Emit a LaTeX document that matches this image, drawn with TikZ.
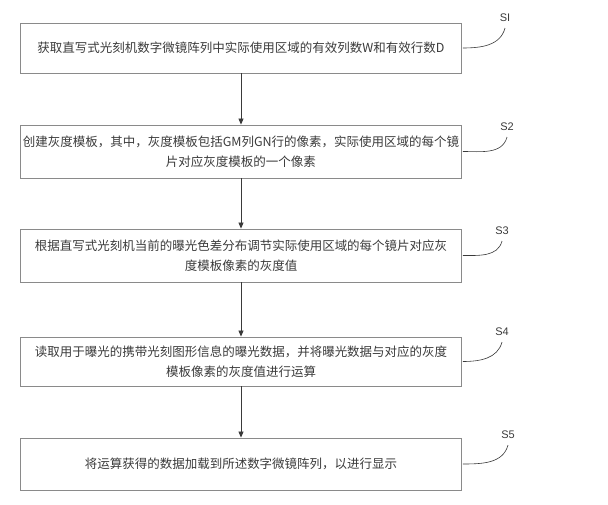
\documentclass[tikz,border=0pt]{standalone}
\usepackage{fontspec}
\setmainfont{Noto Sans CJK SC}
\newfontfamily\labelfont{Liberation Sans}
\usetikzlibrary{arrows.meta}
\definecolor{txtgray}{HTML}{3A3A3A}
\definecolor{linegray}{HTML}{8A8A8A}

\begin{document}
\begin{tikzpicture}[x=1pt, y=1pt,
    stepbox/.style={draw=linegray, line width=0.8pt, minimum width=441pt, align=center,
        text=txtgray, inner sep=0pt, font=\fontsize{12.5}{20}\selectfont},
    flow/.style={-{Triangle[length=6pt,width=5pt]}, draw=txtgray, line width=0.8pt},
    steplabel/.style={text=txtgray, font=\labelfont\fontsize{11}{13}\selectfont, inner sep=1pt},
    hook/.style={draw=txtgray, line width=0.6pt}]
    \useasboundingbox (0,0) rectangle (608,505);
    % boxes
    \node[stepbox, minimum height=50pt] (b1) at (241,457) {获取直写式光刻机数字微镜阵列中实际使用区域的有效列数W和有效行数D};
    \node[stepbox, minimum height=53pt] (b2) at (241,353.5) {创建灰度模板，其中，灰度模板包括GM列GN行的像素，实际使用区域的每个镜\\片对应灰度模板的一个像素};
    \node[stepbox, minimum height=53pt] (b3) at (241,249.5) {根据直写式光刻机当前的曝光色差分布调节实际使用区域的每个镜片对应灰\\度模板像素的灰度值};
    \node[stepbox, minimum height=49pt] (b4) at (241,143.5) {读取用于曝光的携带光刻图形信息的曝光数据，并将曝光数据与对应的灰度\\模板像素的灰度值进行运算};
    \node[stepbox, minimum height=52pt] (b5) at (241,41) {将运算获得的数据加载到所述数字微镜阵列，以进行显示};
    % step labels
    \node[steplabel] (s1) at (505,487) {SI};
    \node[steplabel] (s2) at (507,378) {S2};
    \node[steplabel] (s3) at (502,274) {S3};
    \node[steplabel] (s4) at (502,173) {S4};
    \node[steplabel] (s5) at (508,70) {S5};
    % arrows
    \foreach \a/\b in {b1/b2, b2/b3, b3/b4, b4/b5}
        \draw[flow] (\a) -- (\b);
    % leader curves
    \foreach \i in {1,...,5}
        \draw[hook] ([xshift=1pt]b\i.east) to[out=0, in=-105] ([yshift=-5pt]s\i.south);
\end{tikzpicture}
\end{document}
